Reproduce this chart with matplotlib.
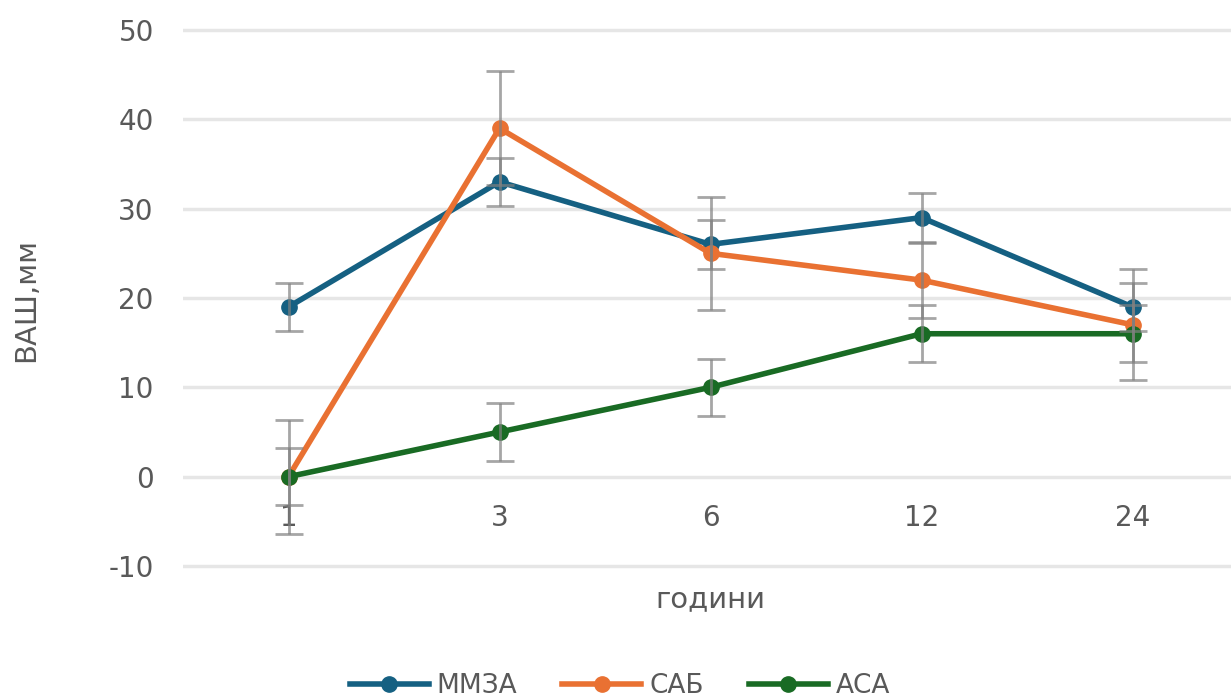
import numpy as np
import matplotlib.pyplot as plt

# Pain score (VAS, mm) by time after surgery
hours = ["1", "3", "6", "12", "24"]
series_names = ["ММЗА", "САБ", "АСА"]
mmza = [19, 33, 26, 29, 19]
sab = [0, 39, 25, 22, 17]
asa = [0, 5, 10, 16, 16]
mmza_err = [2.7, 2.7, 2.7, 2.7, 2.7]
sab_err = [6.4, 6.4, 6.3, 4.2, 6.2]
asa_err = [3.2, 3.2, 3.2, 3.2, 3.2]
colors = ["#156082", "#E97132", "#196B24"]

plt.rcParams['font.family'] = ['DejaVu Sans']
plt.rcParams['axes.unicode_minus'] = False
text_color = '#595959'

fig = plt.figure(figsize=(12.31, 6.97), dpi=100)
# small margin on y so the outer gridlines are not clipped
ax = fig.add_axes([183 / 1231, 1 - 570.5 / 697, 1055 / 1231, 545 / 697])

x = np.arange(len(hours))
values = [mmza, sab, asa]
errors = [mmza_err, sab_err, asa_err]

for vals, color, name in zip(values, colors, series_names):
    ax.plot(x, vals, color=color, lw=4, marker='o', ms=11, label=name, zorder=3,
            solid_joinstyle='round')

# error bars go on top of the lines
for vals, err in zip(values, errors):
    ax.errorbar(x, vals, yerr=err, fmt='none', ecolor='#808080', elinewidth=2,
                capsize=10, capthick=2, alpha=0.7, zorder=4)

ax.set_xlim(-0.5, len(hours) - 0.5)
ax.set_ylim(-10.5, 50.5)
ax.set_yticks(np.arange(-10, 51, 10))
ax.grid(axis='y', color='#e6e6e6', lw=2.5)
ax.set_axisbelow(True)

# category labels sit under the zero line
ax.spines['bottom'].set_position(('data', 0))
for s in ax.spines.values():
    s.set_visible(False)
ax.set_xticks(x)
ax.set_xticklabels(hours)
ax.tick_params(axis='x', length=0, pad=20, labelsize=20, labelcolor=text_color)
ax.tick_params(axis='y', length=0, pad=21, labelsize=20, labelcolor=text_color)

fig.text(710 / 1231, 1 - 599 / 697, "години", ha='center', va='center',
         fontsize=21, color=text_color)
fig.text(26 / 1231, 1 - 300 / 697, "ВАШ,мм", ha='center', va='center',
         rotation=90, fontsize=21, color=text_color)

fig.legend(loc='center', bbox_to_anchor=(620 / 1231, 1 - 686 / 697), ncol=3,
           frameon=False, fontsize=19, handlelength=3.0, handletextpad=0.3,
           columnspacing=1.7, labelcolor=text_color)

fig.savefig("out.png", dpi=100)
